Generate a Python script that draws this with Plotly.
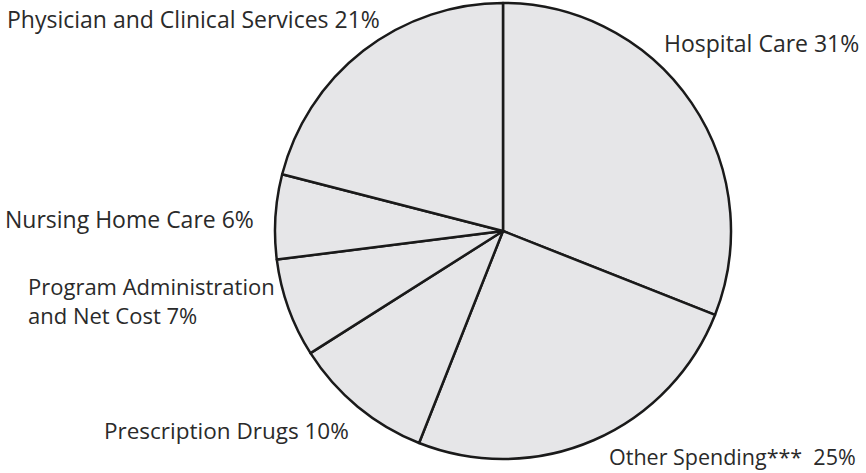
import plotly.graph_objects as go

W, H = 866, 473

# Spending shares, clockwise from 12 o'clock
categories = [
    "Hospital Care",
    "Other Spending***",
    "Prescription Drugs",
    "Program Administration and Net Cost",
    "Nursing Home Care",
    "Physician and Clinical Services",
]
shares = [31, 25, 10, 7, 6, 21]

# Label text drawn beside the pie, its left edge / vertical centre in pixels, and font size
label_text = [
    "Hospital Care 31%",
    "Other Spending***  25%",
    "Prescription Drugs 10%",
    "Program Administration<br>and Net Cost 7%",
    "Nursing Home Care 6%",
    "Physician and Clinical Services 21%",
]
label_pos = [(662, 43), (607, 456), (102, 430), (26, 300), (3, 219), (5, 19)]
label_size = [23, 21.5, 22.5, 22, 23, 23]

FONT = "Open Sans"
fig = go.Figure(
    go.Pie(
        labels=categories,
        values=shares,
        sort=False,
        direction="clockwise",
        rotation=0,
        textinfo="none",
        hoverinfo="label+percent",
        marker=dict(colors=["#e6e6e8"] * len(shares),
                    line=dict(color="#1a1a1a", width=2.5)),
        domain=dict(x=[275 / W, 731 / W], y=[14 / H, 470 / H]),
        showlegend=False,
    )
)

for txt, (px, py), fs in zip(label_text, label_pos, label_size):
    fig.add_annotation(
        x=px / W, y=1 - py / H, xref="paper", yref="paper",
        xanchor="left", yanchor="middle", align="left",
        text=txt, showarrow=False,
        font=dict(family=FONT, size=fs, color="#2a2a2a"),
    )

fig.update_layout(
    width=W, height=H,
    margin=dict(l=0, r=0, t=0, b=0),
    paper_bgcolor="white", plot_bgcolor="white",
)

fig.write_html("out.html")
